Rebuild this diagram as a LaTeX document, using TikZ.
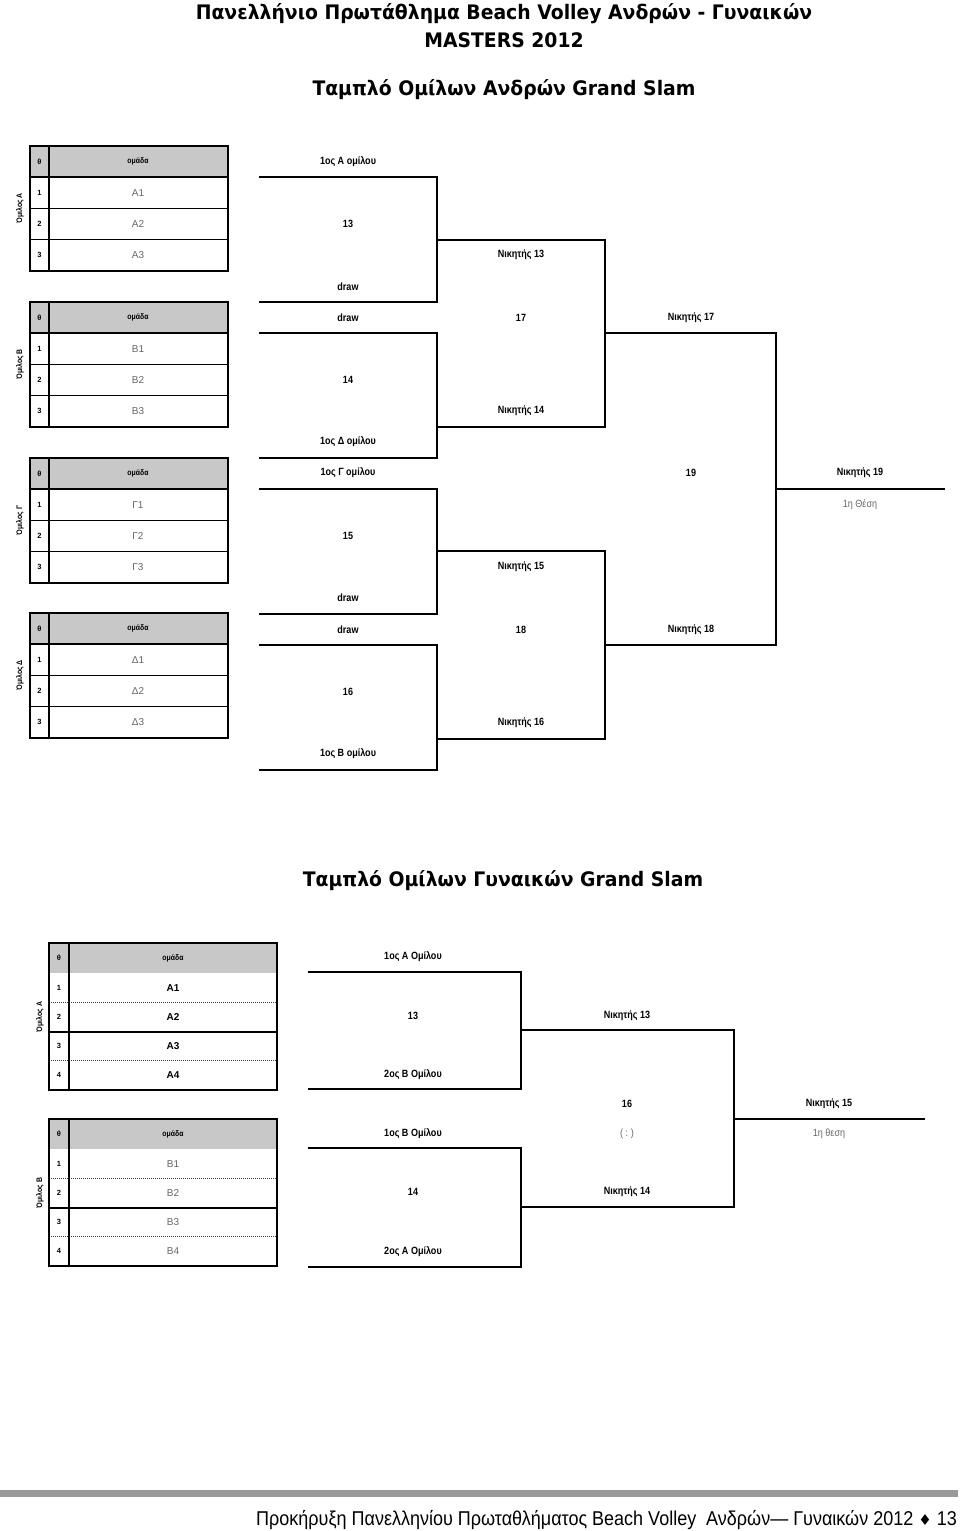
\documentclass[tikz,border=0pt]{standalone}
\usepackage{fontspec}
\setmainfont{Liberation Sans}
\newfontfamily\tah[FakeStretch=0.94]{DejaVu Sans}
\newfontfamily\narrowf[FakeStretch=0.86]{Liberation Sans}
\newfontfamily\footf[FakeStretch=0.9]{Liberation Sans}
\newfontfamily\dvs{DejaVu Sans}
\definecolor{hdrgray}{HTML}{C8C8C8}
\definecolor{txtgray}{HTML}{666666}
\definecolor{bargray}{HTML}{9A9A9A}
\tikzset{
  lbl/.style={font=\narrowf\bfseries\fontsize{10.5}{12}\selectfont, inner sep=0pt},
  glbl/.style={font=\narrowf\fontsize{10.5}{12}\selectfont, text=txtgray, inner sep=0pt},
  cellg/.style={font=\fontsize{10}{12}\selectfont, text=txtgray, inner sep=0pt},
  cellb/.style={font=\bfseries\fontsize{10}{12}\selectfont, inner sep=0pt},
  numb/.style={font=\bfseries\fontsize{7.5}{9}\selectfont, inner sep=0pt},
  hdrt/.style={font=\narrowf\bfseries\fontsize{8}{9}\selectfont, inner sep=0pt},
  grp/.style={font=\narrowf\bfseries\fontsize{8}{9}\selectfont, inner sep=0pt, rotate=90},
  brk/.style={line width=2.4pt, line cap=rect},
  brkthin/.style={line width=1.4pt},
  ttl/.style={font=\tah\bfseries\fontsize{20}{24}\selectfont, inner sep=0pt},
  dotl/.style={line width=1.2pt, draw=black!75, dash pattern=on 1.2pt off 0.8pt}
}
\newcommand\mtab[6]{%
\begin{scope}[yshift=-#1pt]
  \fill[hdrgray] (30,0) rectangle (228,31.2);
  \draw[line width=1.3pt] (30,62.4) -- (228,62.4) (30,93.6) -- (228,93.6);
  \draw[line width=2pt] (30,31.2) -- (228,31.2) (49,0) -- (49,124.8);
  \draw[line width=2.6pt] (30,0) rectangle (228,124.8);
  \node[numb] (#2h) at (39.5,15.6) {θ};
  \node[hdrt] (#2t) at (138,15.6) {ομάδα};
  \node[numb] (#2n1) at (39.5,46.8) {1};
  \node[numb] (#2n2) at (39.5,78) {2};
  \node[numb] (#2n3) at (39.5,109.2) {3};
  \node[cellg] (#2c1) at (138,46.8) {#4};
  \node[cellg] (#2c2) at (138,78) {#5};
  \node[cellg] (#2c3) at (138,109.2) {#6};
  \node[grp] (#2g) at (20,62.4) {Όμιλος #3};
\end{scope}}
\newcommand\wtab[8]{%
\begin{scope}[yshift=-#1pt]
  \fill[hdrgray] (49,0) rectangle (277,30);
  \draw[dotl] (49,59.25) -- (277,59.25) (49,117.75) -- (277,117.75);
  \draw[line width=2pt] (49,88.5) -- (277,88.5);
  \draw[line width=1.5pt] (69,0) -- (69,147);
  \draw[line width=2.4pt] (49,0) rectangle (277,147);
  \node[numb] (#2h) at (59,15) {θ};
  \node[hdrt] (#2t) at (173,15) {ομάδα};
  \node[numb] (#2n1) at (59,44.6) {1};
  \node[numb] (#2n2) at (59,73.9) {2};
  \node[numb] (#2n3) at (59,103.1) {3};
  \node[numb] (#2n4) at (59,132.4) {4};
  \node[#8] (#2c1) at (173,44.6) {#4};
  \node[#8] (#2c2) at (173,73.9) {#5};
  \node[#8] (#2c3) at (173,103.1) {#6};
  \node[#8] (#2c4) at (173,132.4) {#7};
  \node[grp] (#2g) at (40,74) {Όμιλος #3};
\end{scope}}
\begin{document}
\begin{tikzpicture}[x=1pt,y=-1pt]
\useasboundingbox (0,0) rectangle (960,1531);
% titles
\node[ttl] (t1) at (504,14) {Πανελλήνιο Πρωτάθλημα Beach Volley Ανδρών - Γυναικών};
\node[ttl] (t2) at (504,40) {MASTERS 2012};
\node[ttl] (t3) at (504,90) {Ταμπλό Ομίλων Ανδρών Grand Slam};
\node[ttl] (t4) at (503,881) {Ταμπλό Ομίλων Γυναικών Grand Slam};
% men's tables
\mtab{146}{ga}{Α}{Α1}{Α2}{Α3}
\mtab{302}{gb}{Β}{Β1}{Β2}{Β3}
\mtab{458}{gc}{Γ}{Γ1}{Γ2}{Γ3}
\mtab{613}{gd}{Δ}{Δ1}{Δ2}{Δ3}
% men's bracket coordinates
\coordinate (a1) at (260,177); \coordinate (b1) at (437,177);
\coordinate (a2) at (260,302); \coordinate (b2) at (437,302);
\coordinate (a3) at (260,333); \coordinate (b3) at (437,333);
\coordinate (a4) at (260,458); \coordinate (b4) at (437,458);
\coordinate (a5) at (260,489); \coordinate (b5) at (437,489);
\coordinate (a6) at (260,614); \coordinate (b6) at (437,614);
\coordinate (a7) at (260,645); \coordinate (b7) at (437,645);
\coordinate (a8) at (260,770); \coordinate (b8) at (437,770);
\coordinate (w13) at (437,240); \coordinate (c13) at (605,240);
\coordinate (w14) at (437,427); \coordinate (c14) at (605,427);
\coordinate (w15) at (437,551); \coordinate (c15) at (605,551);
\coordinate (w16) at (437,739); \coordinate (c16) at (605,739);
\coordinate (w17) at (605,333); \coordinate (d17) at (776,333);
\coordinate (w18) at (605,645); \coordinate (d18) at (776,645);
\coordinate (w19) at (776,489); \coordinate (e19) at (945,489);
\draw[brk] (a1) -- (b1) -- (b2) -- (a2);
\draw[brk] (a3) -- (b3) -- (b4) -- (a4);
\draw[brk] (a5) -- (b5) -- (b6) -- (a6);
\draw[brk] (a7) -- (b7) -- (b8) -- (a8);
\draw[brk] (w13) -- (c13) -- (c14) -- (w14);
\draw[brk] (w15) -- (c15) -- (c16) -- (w16);
\draw[brk] (w17) -- (d17) -- (d18) -- (w18);
\draw[brkthin] (w19) -- (e19);
% men's labels
\node[lbl] (l13a) at (348,162) {1ος Α ομίλου};
\node[lbl] (l13b) at (348,224) {13};
\node[lbl] (l13c) at (348,287) {draw};
\node[lbl] (l14a) at (348,318) {draw};
\node[lbl] (l14b) at (348,380) {14};
\node[lbl] (l14c) at (348,442) {1ος Δ ομίλου};
\node[lbl] (l15a) at (348,473) {1ος Γ ομίλου};
\node[lbl] (l15b) at (348,536) {15};
\node[lbl] (l15c) at (348,598) {draw};
\node[lbl] (l16a) at (348,630) {draw};
\node[lbl] (l16b) at (348,692) {16};
\node[lbl] (l16c) at (348,754) {1ος Β ομίλου};
\node[lbl] (l17a) at (521,255) {Νικητής 13};
\node[lbl] (l17b) at (521,318) {17};
\node[lbl] (l17c) at (521,411) {Νικητής 14};
\node[lbl] (l18a) at (521,567) {Νικητής 15};
\node[lbl] (l18b) at (521,630) {18};
\node[lbl] (l18c) at (521,723) {Νικητής 16};
\node[lbl] (l19a) at (691,318) {Νικητής 17};
\node[lbl] (l19b) at (691,473) {19};
\node[lbl] (l19c) at (691,630) {Νικητής 18};
\node[lbl] (lfa) at (860,473) {Νικητής 19};
\node[glbl] (lfb) at (860,505) {1η Θέση};
% women's tables
\wtab{943}{wa}{Α}{Α1}{Α2}{Α3}{Α4}{cellb}
\wtab{1119}{wb}{Β}{Β1}{Β2}{Β3}{Β4}{cellg}
% women's bracket
\coordinate (p1) at (309,972); \coordinate (q1) at (521,972);
\coordinate (p2) at (309,1089); \coordinate (q2) at (521,1089);
\coordinate (p3) at (309,1148); \coordinate (q3) at (521,1148);
\coordinate (p4) at (309,1267); \coordinate (q4) at (521,1267);
\coordinate (v13) at (521,1030); \coordinate (r13) at (734,1030);
\coordinate (v14) at (521,1207); \coordinate (r14) at (734,1207);
\coordinate (v15) at (734,1119); \coordinate (s15) at (925,1119);
\draw[brk, line width=2.2pt] (p1) -- (q1) -- (q2) -- (p2);
\draw[brk, line width=2.2pt] (p3) -- (q3) -- (q4) -- (p4);
\draw[brk, line width=2.2pt] (v13) -- (r13) -- (r14) -- (v14);
\draw[line width=2.4pt] (v15) -- (s15);
\node[lbl] (k13a) at (413,957) {1ος Α Ομίλου};
\node[lbl] (k13b) at (413,1016) {13};
\node[lbl] (k13c) at (413,1075) {2ος Β Ομίλου};
\node[lbl] (k14a) at (413,1134) {1ος Β Ομίλου};
\node[lbl] (k14b) at (413,1192) {14};
\node[lbl] (k14c) at (413,1252) {2ος Α Ομίλου};
\node[lbl] (k16a) at (627,1016) {Νικητής 13};
\node[lbl] (k16b) at (627,1104) {16};
\node[glbl] (k16c) at (627,1134) {(\ :\ )};
\node[lbl] (k16d) at (627,1192) {Νικητής 14};
\node[lbl] (kfa) at (829,1104) {Νικητής 15};
\node[glbl] (kfb) at (829,1134) {1η θεση};
% footer
\fill[bargray] (0,1490) rectangle (958,1497);
\node[anchor=east, inner sep=0pt, font=\footf\fontsize{20}{22}\selectfont] (foot) at (957,1520)
  {Προκήρυξη Πανελληνίου Πρωταθλήματος Beach Volley\ \ Ανδρών— Γυναικών 2012 {\dvs\fontsize{15}{17}\selectfont ♦} 13};
\end{tikzpicture}
\end{document}
